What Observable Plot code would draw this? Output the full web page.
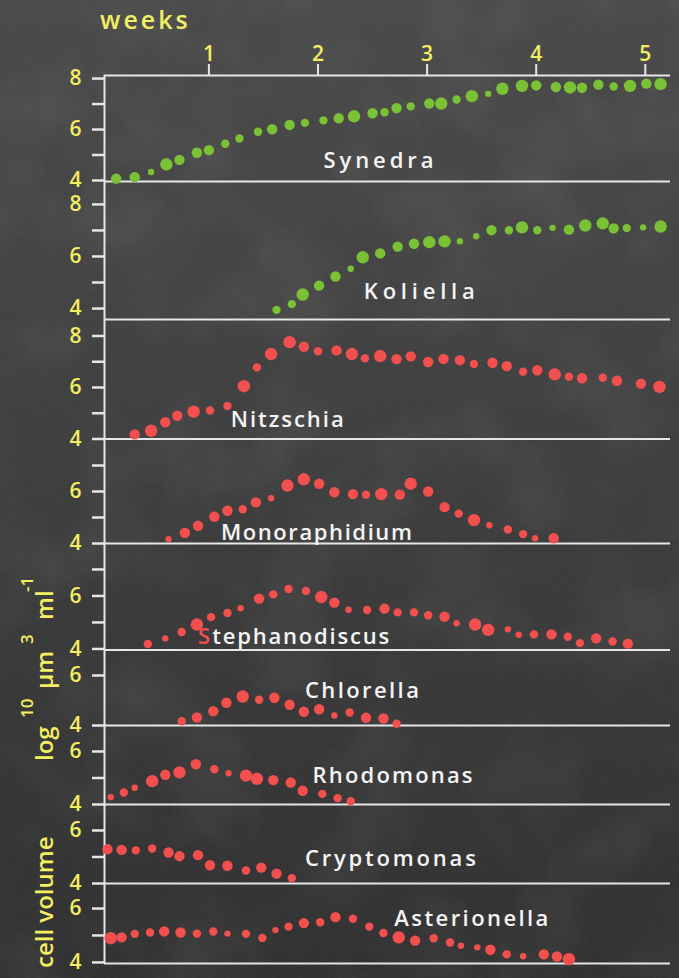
<!DOCTYPE html>
<html>
<head>
<meta charset="utf-8">
<script src="https://cdn.jsdelivr.net/npm/d3@7"></script>
<script src="https://cdn.jsdelivr.net/npm/@observablehq/plot@0.6"></script>
<style>
html, body { margin: 0; padding: 0; background: #3a3a3a; }
#board {
  position: relative; width: 679px; height: 978px; overflow: hidden;
  background: linear-gradient(180deg, #4a4a4a 0%, #434343 30%, #3b3b3b 60%, #313131 100%);
  font-family: 'Open Sans', sans-serif;
}
#board svg { position: absolute; left: 0; overflow: visible; }
#board g[aria-label="y-axis tick label"], #board g[aria-label="x-axis tick label"] { fill: #f3ee62; font-weight: 600; }
</style>
</head>
<body>
<div id="board"></div>
<script>
// ---------- data ----------
const weekTicks = [1, 2, 3, 4, 5];

const synedraWk = [0.15,0.32,0.47,0.61,0.73,0.89,1.00,1.15,1.28,1.45,1.58,1.74,1.88,2.05,2.19,2.33,2.50,2.61,2.72,2.85,3.02,3.13,3.27,3.41,3.56,3.69,3.87,4.00,4.18,4.31,4.42,4.57,4.71,4.86,5.01,5.14];
const synedraLog = [4.07,4.13,4.33,4.63,4.81,5.09,5.19,5.44,5.65,5.91,6.01,6.18,6.26,6.36,6.44,6.52,6.64,6.68,6.84,6.91,7.02,7.02,7.18,7.31,7.40,7.60,7.71,7.73,7.67,7.65,7.64,7.76,7.69,7.71,7.80,7.78];
const synedraWt = [3,3,1,4,3,3,3,2,2,2,3,3,2,2,3,4,3,2,3,2,3,4,2,4,1,4,4,3,3,4,3,3,2,4,3,4];

const koliellaWk = [1.62,1.76,1.86,2.01,2.16,2.30,2.41,2.57,2.73,2.88,3.02,3.16,3.30,3.45,3.59,3.75,3.87,4.01,4.15,4.30,4.45,4.61,4.71,4.83,4.98,5.14];
const koliellaLog = [3.95,4.17,4.54,4.88,5.23,5.53,5.97,6.12,6.38,6.49,6.55,6.58,6.59,6.78,7.01,7.01,7.12,7.01,7.10,7.03,7.19,7.27,7.08,7.09,7.12,7.15];
const koliellaWt = [2,2,4,3,3,1,4,3,3,3,4,4,1,1,3,2,4,2,1,3,4,4,3,2,1,4];

const nitzschiaWk = [0.32,0.47,0.60,0.71,0.86,1.01,1.17,1.32,1.44,1.57,1.74,1.87,2.00,2.17,2.31,2.43,2.57,2.72,2.85,3.01,3.15,3.30,3.43,3.60,3.73,3.88,4.01,4.17,4.30,4.42,4.61,4.74,4.96,5.13];
const nitzschiaLog = [4.18,4.32,4.65,4.90,5.06,5.11,5.28,6.05,6.78,7.30,7.76,7.58,7.41,7.44,7.30,7.13,7.22,7.10,7.21,6.99,7.11,7.06,6.91,6.96,6.83,6.61,6.67,6.51,6.42,6.36,6.38,6.26,6.15,6.02];
const nitzschiaWt = [3,4,3,3,4,2,2,4,2,4,4,3,2,3,4,2,4,3,3,3,3,3,2,3,3,2,3,4,2,3,2,3,3,4];

const monoWk = [0.63,0.78,0.90,1.05,1.17,1.31,1.43,1.57,1.72,1.87,2.01,2.15,2.32,2.44,2.58,2.75,2.85,3.01,3.16,3.29,3.43,3.57,3.74,3.88,3.99,4.16];
const monoLog = [4.17,4.41,4.68,5.03,5.26,5.32,5.58,5.74,6.23,6.47,6.30,5.97,5.90,5.88,5.90,5.88,6.30,6.00,5.40,5.15,4.90,4.70,4.54,4.36,4.20,4.20];
const monoWt = [1,3,3,3,3,2,3,1,4,4,3,3,3,2,4,3,4,3,3,2,4,1,2,2,1,3];

const stephWk = [0.44,0.60,0.75,0.89,1.02,1.17,1.29,1.46,1.59,1.73,1.89,2.03,2.15,2.28,2.45,2.61,2.73,2.88,3.01,3.16,3.27,3.44,3.56,3.74,3.84,3.98,4.14,4.29,4.40,4.55,4.70,4.84];
const stephLog = [4.19,4.40,4.64,4.92,5.20,5.36,5.54,5.90,6.06,6.26,6.19,5.96,5.75,5.48,5.47,5.52,5.38,5.38,5.27,5.22,4.97,4.92,4.72,4.74,4.54,4.55,4.55,4.46,4.22,4.40,4.28,4.20];
const stephWt = [2,1,2,4,2,2,1,3,2,2,2,4,3,1,2,3,2,2,2,3,1,4,4,1,1,2,3,2,2,3,2,3];

const chlorellaWk = [0.75,0.89,1.04,1.16,1.31,1.46,1.60,1.74,1.87,2.01,2.15,2.29,2.44,2.60,2.72];
const chlorellaLog = [4.17,4.32,4.57,4.91,5.16,5.03,5.11,4.83,4.55,4.65,4.40,4.52,4.31,4.28,4.07];
const chlorellaWt = [2,3,3,3,4,2,3,3,3,3,1,2,3,3,2];

const rhodoWk = [0.10,0.22,0.32,0.48,0.60,0.73,0.88,1.05,1.18,1.34,1.44,1.59,1.75,1.86,2.04,2.18,2.30];
const rhodoLog = [4.28,4.45,4.63,4.88,5.12,5.21,5.52,5.33,5.18,5.09,4.97,4.92,4.83,4.52,4.40,4.24,4.12];
const rhodoWt = [1,2,1,4,3,4,3,2,1,4,4,3,3,3,2,2,2];

const cryptoWk = [0.07,0.20,0.33,0.48,0.63,0.73,0.90,1.01,1.17,1.34,1.48,1.62,1.76];
const cryptoLog = [5.29,5.27,5.25,5.32,5.17,5.03,5.07,4.69,4.67,4.49,4.60,4.37,4.20];
const cryptoWt = [3,3,2,2,3,3,3,3,3,2,3,3,2];

const asterWk = [0.10,0.20,0.32,0.46,0.59,0.74,0.89,1.04,1.17,1.34,1.49,1.61,1.73,1.87,2.02,2.16,2.32,2.47,2.60,2.74,2.89,3.06,3.21,3.31,3.46,3.58,3.73,3.88,4.07,4.19,4.30];
const asterLog = [4.90,4.93,5.06,5.11,5.15,5.11,5.07,5.15,5.07,5.06,4.91,5.20,5.33,5.46,5.49,5.68,5.62,5.33,5.09,4.93,4.81,4.90,4.74,4.62,4.56,4.47,4.30,4.23,4.30,4.22,4.12];
const asterWt = [4,3,2,2,3,3,2,2,1,2,2,1,2,3,2,3,2,2,2,4,3,2,2,1,1,3,2,1,3,3,4];

// ---------- styling / layout ----------
const GREEN = "#7bc136";
const RED = "#f24f4f";
const YELLOW = "#f3ee62";
const LINE = "#e6e6e6";
const WHITE = "#f4f4f4";
const X_DOMAIN = [0.043, 5.231];

const rows = (wk, lg, wt) => wk.map((w, i) => ({w, v: lg[i], n: wt[i]}));

const panels = [
  {data: rows(synedraWk, synedraLog, synedraWt), color: GREEN, top: 75, bottom: 181, domain: [3.96, 8.12], ticks: [4,5,6,7,8],
   labels: [{text: "Synedra", x: 2.05, y: 4.78, color: WHITE, len: 110}]},
  {data: rows(koliellaWk, koliellaLog, koliellaWt), color: GREEN, top: 181, bottom: 319, domain: [3.58, 8.88], ticks: [4,5,6,7,8],
   labels: [{text: "Koliella", x: 2.42, y: 4.62, color: WHITE, len: 111}]},
  {data: rows(nitzschiaWk, nitzschiaLog, nitzschiaWt), color: RED, top: 319, bottom: 438.5, domain: [4, 8.64], ticks: [4,5,6,7,8],
   labels: [{text: "Nitzschia", x: 1.20, y: 4.74, color: WHITE, len: 113}]},
  {data: rows(monoWk, monoLog, monoWt), color: RED, top: 438.5, bottom: 542.5, domain: [4, 8], ticks: [4,5,6,7],
   labels: [{text: "Monoraphidium", x: 1.11, y: 4.42, color: WHITE, len: 191}]},
  {data: rows(stephWk, stephLog, stephWt), color: RED, top: 542.5, bottom: 649, domain: [3.96, 7.98], ticks: [4,5,6,7],
   labels: [{text: "S", x: 0.90, y: 4.45, color: RED}, {text: "tephanodiscus", x: 1.03, y: 4.45, color: WHITE, len: 177}]},
  {data: rows(chlorellaWk, chlorellaLog, chlorellaWt), color: RED, top: 649, bottom: 725, domain: [4, 7.04], ticks: [4,6],
   labels: [{text: "Chlorella", x: 1.88, y: 5.40, color: WHITE, len: 114}]},
  {data: rows(rhodoWk, rhodoLog, rhodoWt), color: RED, top: 725, bottom: 804, domain: [4, 6.98], ticks: [4,5,6],
   labels: [{text: "Rhodomonas", x: 1.95, y: 5.09, color: WHITE, len: 160}]},
  {data: rows(cryptoWk, cryptoLog, cryptoWt), color: RED, top: 804, bottom: 883, domain: [4, 6.98], ticks: [4,5,6],
   labels: [{text: "Cryptomonas", x: 1.88, y: 4.94, color: WHITE, len: 171}]},
  {data: rows(asterWk, asterLog, asterWt), color: RED, top: 883, bottom: 963, domain: [3.96, 6.93], ticks: [4,5,6],
   labels: [{text: "Asterionella", x: 2.70, y: 5.63, color: WHITE, len: 154}]}
];

const board = document.getElementById("board");

// chalk texture
board.insertAdjacentHTML("beforeend", `
<svg width="679" height="978" style="top:0">
  <defs>
    <filter id="grain" x="0" y="0" width="100%" height="100%">
      <feTurbulence type="fractalNoise" baseFrequency="0.85" numOctaves="2" seed="4"/>
      <feColorMatrix type="matrix" values="0 0 0 0 1  0 0 0 0 1  0 0 0 0 1  1 0 0 0 -0.45"/>
    </filter>
    <filter id="smudge" x="0" y="0" width="100%" height="100%">
      <feTurbulence type="fractalNoise" baseFrequency="0.012" numOctaves="3" seed="9"/>
      <feColorMatrix type="matrix" values="0 0 0 0 1  0 0 0 0 1  0 0 0 0 1  1.2 0 0 0 -0.5"/>
    </filter>
  </defs>
  <rect width="679" height="978" filter="url(#smudge)" opacity="0.10"/>
  <rect width="679" height="978" filter="url(#grain)" opacity="0.10"/>
</svg>`);

panels.forEach((p, i) => {
  const first = i === 0;
  const mTop = first ? p.top : 0;
  const h = p.bottom - p.top + mTop;
  const marks = [
    Plot.ruleY([p.domain[0]], {stroke: LINE, strokeWidth: 2}),
    Plot.ruleX([X_DOMAIN[0]], {stroke: LINE, strokeWidth: 2}),
    Plot.axisY({
      ticks: p.ticks, tickSize: 12, tickPadding: 11,
      tickFormat: d => (d % 2 === 0 ? String(d) : ""),
      stroke: LINE, strokeWidth: 2.5, fill: YELLOW, fontSize: 21, fontWeight: 600
    }),
    Plot.dot(p.data, {x: "w", y: "v", r: "n", fill: p.color, stroke: "none"}),
    ...p.labels.map(lab => Plot.text([lab], {
      x: "x", y: "y", text: "text", fill: lab.color, fontSize: 22, fontWeight: 600, textAnchor: "start"
    }))
  ];
  if (first) {
    marks.push(
      Plot.ruleY([p.domain[1]], {stroke: LINE, strokeWidth: 2}),
      Plot.axisX({anchor: "top", ticks: weekTicks, tickFormat: d => String(d), tickSize: 12, tickPadding: 3,
        stroke: LINE, strokeWidth: 2, fill: YELLOW, fontSize: 21, fontWeight: 600})
    );
  }
  const svg = Plot.plot({
    width: 679, height: h,
    marginTop: mTop, marginBottom: 0, marginLeft: 104, marginRight: 9,
    x: first ? {domain: X_DOMAIN} : {domain: X_DOMAIN, axis: null},
    y: {domain: p.domain},
    r: {type: "linear", domain: [1, 4], range: [3.2, 6.2]},
    style: {background: "transparent", overflow: "visible", fontFamily: "'Open Sans', sans-serif", color: WHITE},
    marks
  });
  svg.style.top = (first ? 0 : p.top) + "px";
  svg.querySelectorAll('g[aria-label="text"] text').forEach(t => {
    const lab = p.labels.find(l => l.text === t.textContent);
    if (lab && lab.len) {
      t.setAttribute("textLength", lab.len);
      t.setAttribute("lengthAdjust", "spacing");
    }
  });
  board.appendChild(svg);
});

// titles
const vt = (txt, x, y, size) =>
  `<text transform="translate(${x},${y}) rotate(-90)" font-size="${size}" font-weight="600" fill="${YELLOW}" text-anchor="start">${txt}</text>`;
board.insertAdjacentHTML("beforeend", `
<svg width="679" height="978" style="top:0" font-family="'Open Sans', sans-serif">
  <text x="100" y="29" font-size="25" font-weight="600" fill="${YELLOW}" letter-spacing="3">weeks</text>
  ${vt("cell volume", 53, 968, 24)}
  ${vt("log", 53, 761, 24)}
  ${vt("10", 33, 718, 17)}
  ${vt("µm", 53, 689, 24)}
  ${vt("3", 33, 644, 17)}
  ${vt("ml", 53, 620, 24)}
  ${vt("-1", 33, 592, 17)}
</svg>`);
</script>
</body>
</html>
